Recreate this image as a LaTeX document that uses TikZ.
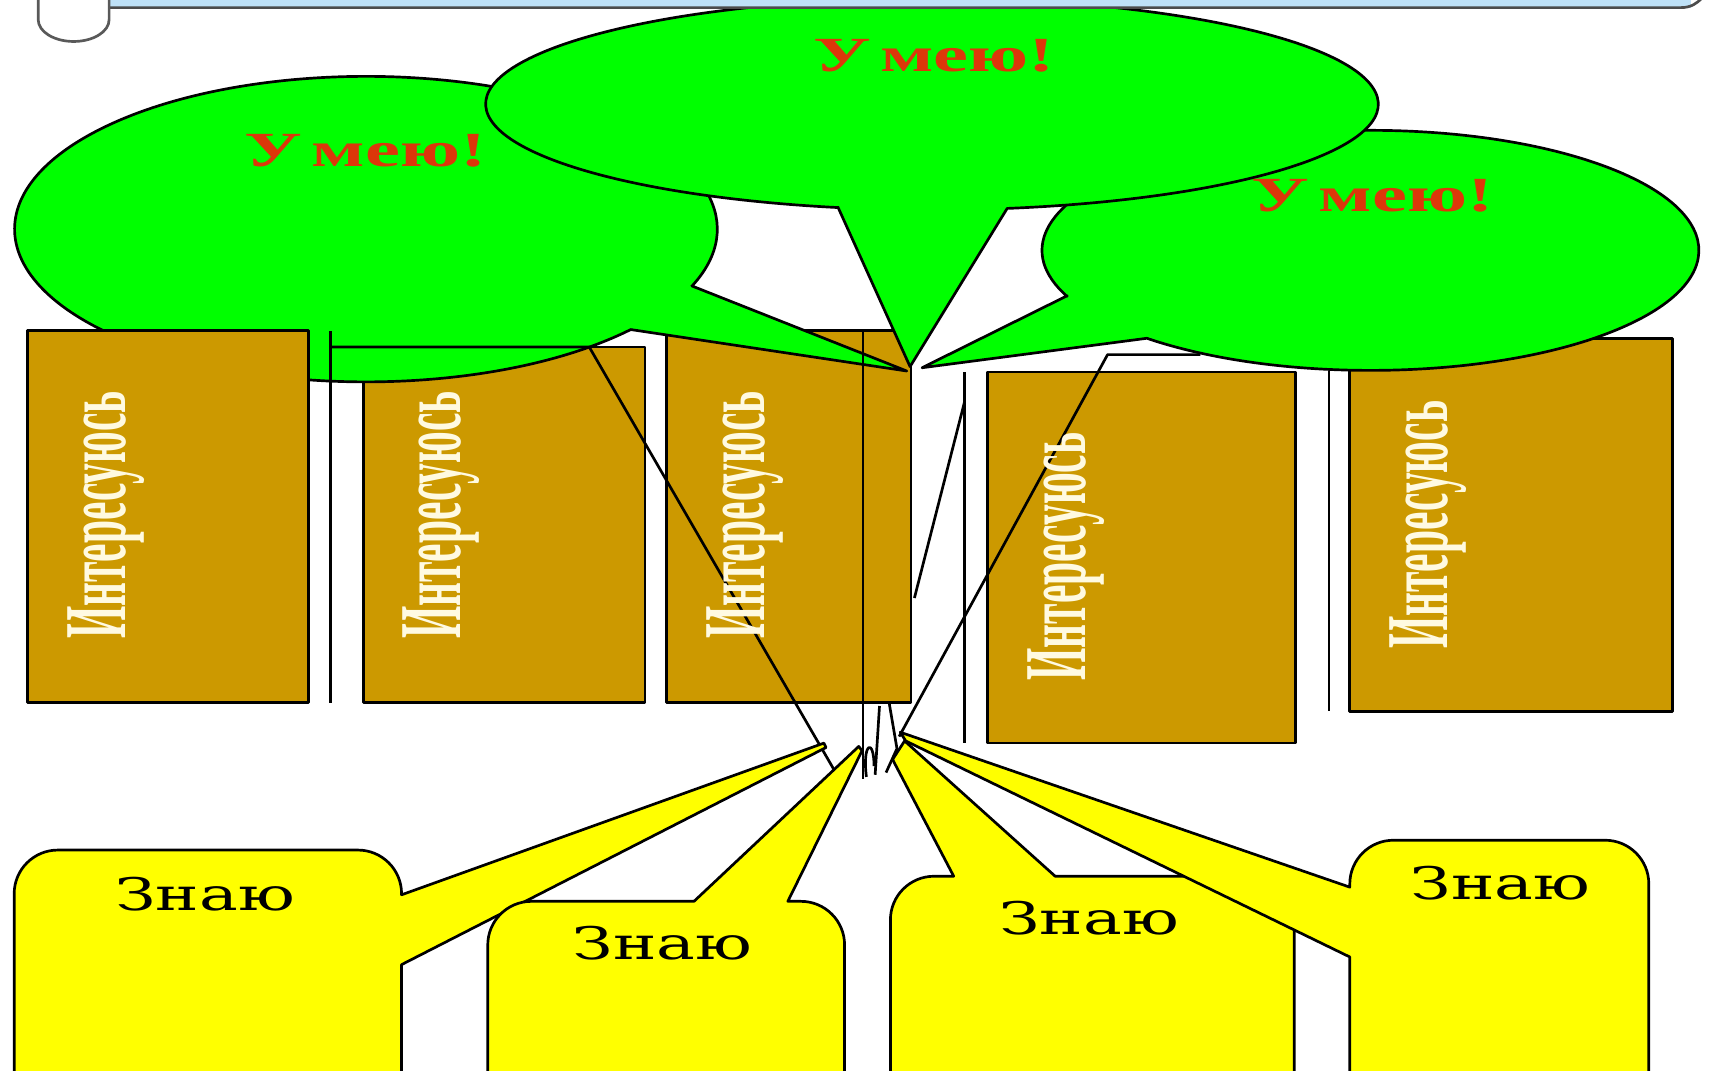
\documentclass[tikz,border=0pt]{standalone}
\usepackage{fontspec}
\setmainfont{Liberation Serif}
\newfontfamily\znfont{DejaVu Serif}
\definecolor{leaf}{RGB}{0,255,0}
\definecolor{trunk}{RGB}{204,153,0}
\definecolor{rootc}{RGB}{255,255,0}
\definecolor{umred}{RGB}{220,55,10}
\definecolor{cream}{RGB}{255,250,225}
\definecolor{sky}{RGB}{190,225,247}
\begin{document}
\begin{tikzpicture}[x=0.01cm,y=-0.01cm, line width=0.7pt, line join=round,
  leafshape/.style={fill=leaf,draw=black},
  trunkbox/.style={fill=trunk,draw=black},
  rootshape/.style={fill=rootc,draw=black},
  wire/.style={draw=black},
  umtext/.style={text=umred,font=\fontsize{12.8pt}{14pt}\selectfont\bfseries, inner sep=0pt},
  intext/.style={text=cream, rotate=90, font=\fontsize{23pt}{24pt}\selectfont\bfseries, inner sep=0pt},
  zntext/.style={text=black, font=\znfont\fontsize{11.7pt}{13pt}\selectfont, inner sep=0pt}]
\useasboundingbox (0,0) rectangle (1568,981);
\clip (0,0) rectangle (1568,981);

% trunk boxes (behind the crown)
\draw[trunkbox] (333,318) rectangle (591,644);
\draw[trunkbox] (611,303) rectangle (835,644);
\draw[trunkbox] (905,341) rectangle (1187,681);
\draw[trunkbox] (1237,310) rectangle (1533,652);

% wire under the right crown
\draw[wire] (1100,325) -- (1015,325) -- (824,675);

% crown: left, right, middle callouts
\path[leafshape] (634,262) -- (831,340) -- (578,302)
  arc[start angle=41.1, end angle=381.8, x radius=322, y radius=140] -- cycle;
\path[leafshape] (978,271) -- (845,337) -- (1051,310)
  arc[start angle=132.9, end angle=-202.5, x radius=301, y radius=110] -- cycle;
\path[leafshape] (768,190) -- (834,336) -- (923,191)
  arc[start angle=80.3, end angle=-257.9, x radius=409, y radius=97] -- cycle;

% first box over the crown
\draw[trunkbox] (25,303) rectangle (283,644);

% wires
\draw[wire] (303,644) -- (303,303);
\draw[wire] (303,318) -- (540,318) -- (767,710);
\draw[wire] (791,303) -- (791,714);
\draw[wire] (884,341) -- (884,681);
\draw[wire] (1218,340) -- (1218,652);
\draw[wire] (884,368) -- (838,548);
\draw[wire] (806,647) -- (802,710);
\draw[wire] (815,645) -- (822,686) -- (812,708);
\draw[wire] (794,712) .. controls (790,680) and (801,676) .. (801,702);

% roots: yellow callouts
\path[rootshape] (13,1000) -- (13,819) arc[start angle=180,end angle=270,radius=40]
  -- (328,779) arc[start angle=270,end angle=360,radius=40]
  -- (368,820) -- (755,681) -- (757,685) -- (368,884) -- (368,1000) -- cycle;
\path[rootshape] (447,1000) -- (447,866) arc[start angle=180,end angle=270,radius=40]
  -- (636,826) -- (787,684) -- (790,688) -- (722,826)
  -- (734,826) arc[start angle=270,end angle=360,radius=40] -- (774,1000) -- cycle;
\path[rootshape] (816,1000) -- (816,843) arc[start angle=180,end angle=270,radius=40]
  -- (874,803) -- (818,696) -- (829,679) -- (967,803)
  -- (1146,803) arc[start angle=270,end angle=360,radius=40] -- (1186,1000) -- cycle;
\path[rootshape] (1237,1000) -- (1237,877) -- (830,679) -- (825,671) -- (1237,813)
  -- (1237,810) arc[start angle=180,end angle=270,radius=40]
  -- (1471,770) arc[start angle=270,end angle=360,radius=40] -- (1511,1000) -- cycle;

% scroll at the top
\fill[sky] (100,0) rectangle (1550,7);
\draw[gray!60!black] (100,7) -- (1540,7) .. controls (1550,7) and (1555,3) .. (1560,-2);
\draw[gray!70!black, fill=white] (35,-5) -- (35,18)
  arc[start angle=180, end angle=0, x radius=32.5, y radius=20] -- (100,-5);

% texts
\node[umtext] (um1) at (335,138) {\scalebox{1.6}[1]{У\kern0.12em мею!}};
\node[umtext] (um2) at (856,51) {\scalebox{1.6}[1]{У\kern0.12em мею!}};
\node[umtext] (um3) at (1258,179) {\scalebox{1.6}[1]{У\kern0.12em мею!}};

\node[intext] (i1) at (97,472) {\scalebox{0.47}[1]{Интересуюсь}};
\node[intext] (i2) at (404,472) {\scalebox{0.47}[1]{Интересуюсь}};
\node[intext] (i3) at (683,472) {\scalebox{0.47}[1]{Интересуюсь}};
\node[intext] (i4) at (977,510) {\scalebox{0.47}[1]{Интересуюсь}};
\node[intext] (i5) at (1309,481) {\scalebox{0.47}[1]{Интересуюсь}};

\node[zntext] (z1) at (188,819) {\scalebox{1.45}[1]{Знаю}};
\node[zntext] (z2) at (607,864) {\scalebox{1.45}[1]{Знаю}};
\node[zntext] (z3) at (998,841) {\scalebox{1.45}[1]{Знаю}};
\node[zntext] (z4) at (1375,809) {\scalebox{1.45}[1]{Знаю}};
\end{tikzpicture}
\end{document}
